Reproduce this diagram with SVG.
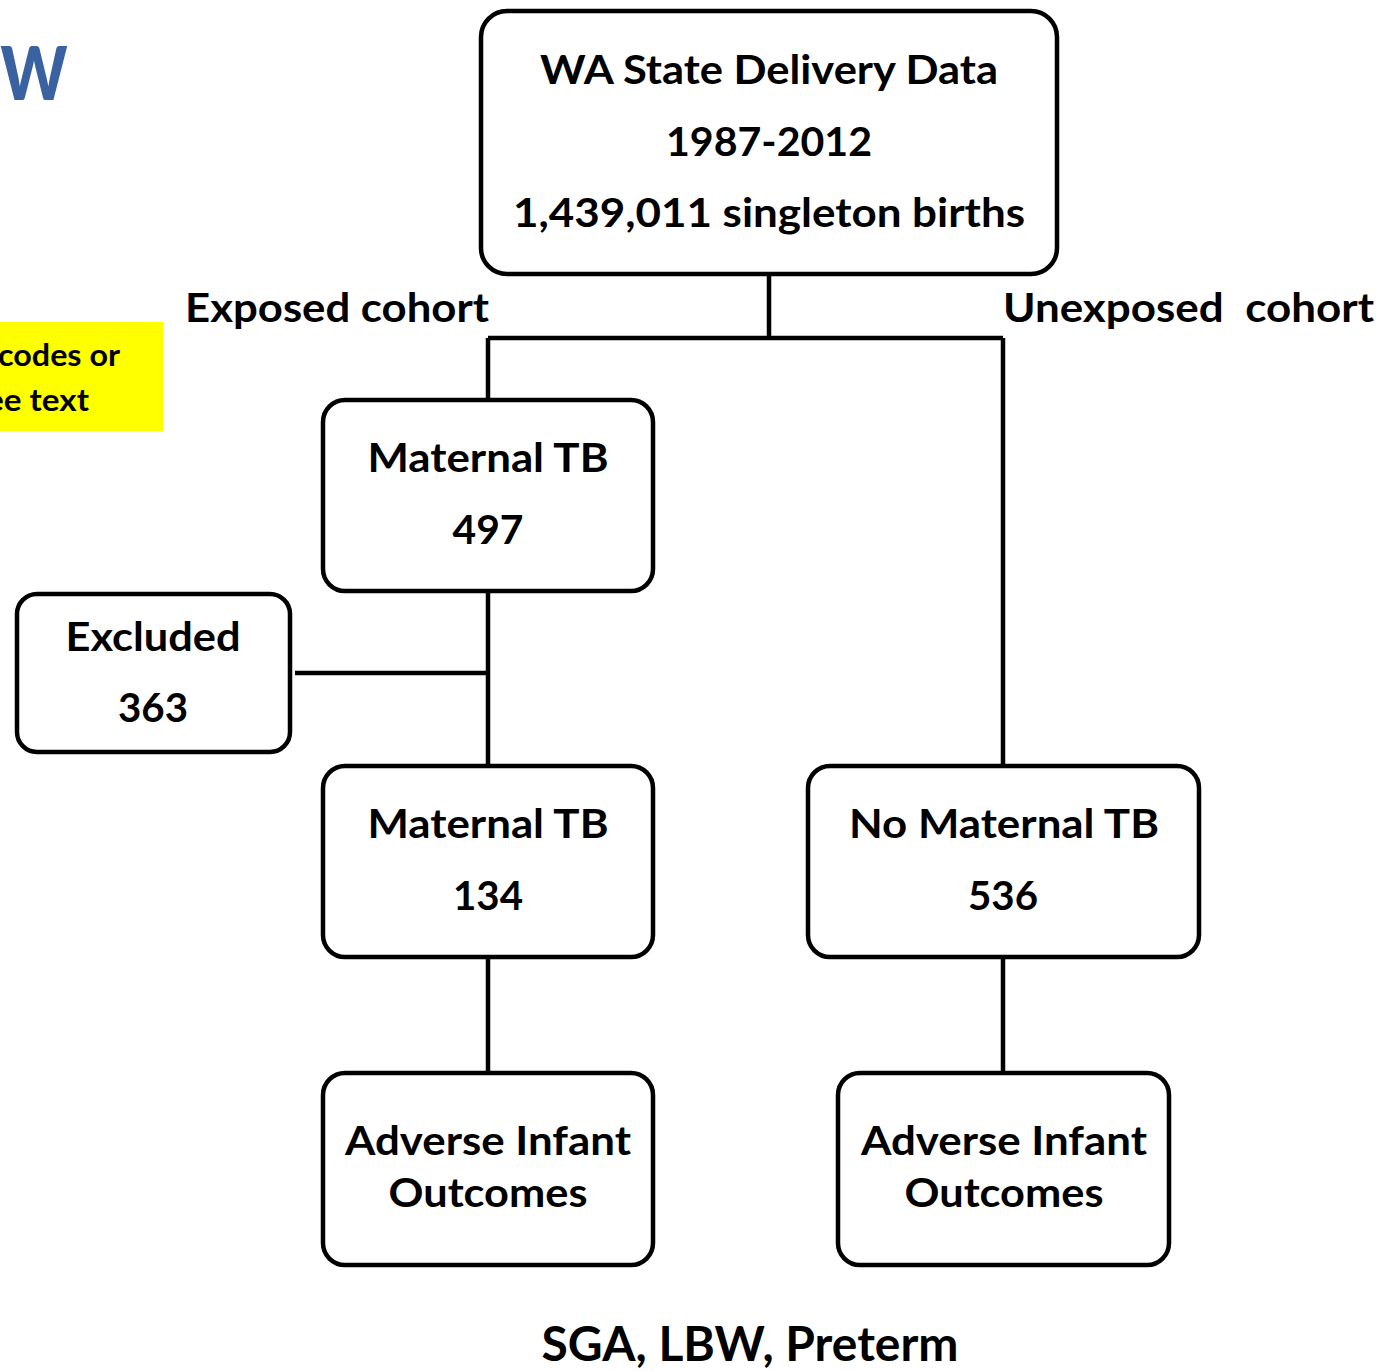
<svg xmlns="http://www.w3.org/2000/svg" width="1384" height="1371" viewBox="0 0 1384 1371">
<style>
  .box { fill: #ffffff; stroke: #000000; stroke-width: 4.5; }
  .conn { fill: none; stroke: #000000; stroke-width: 4.5; }
  text { font-family: Lato, "Open Sans", "Liberation Sans", sans-serif; font-weight: bold; fill: #000000; }
  .t { font-size: 40px; text-anchor: middle; }
  .lbl { font-size: 40px; }
</style>
<rect width="1384" height="1371" fill="#ffffff"/>

<g id="title-fragment">
  <text x="68" y="100" font-size="105" text-anchor="end" style="fill:#3A62A0" textLength="68" lengthAdjust="spacingAndGlyphs">w</text>
</g>

<g id="note-yellow">
  <rect x="0" y="322" width="163" height="109" fill="#FFFF00"/>
  <text x="120" y="366" font-size="31" text-anchor="end" textLength="122" lengthAdjust="spacingAndGlyphs">codes or</text>
  <text x="89" y="411" font-size="31" text-anchor="end" textLength="103" lengthAdjust="spacingAndGlyphs">ee text</text>
</g>

<g id="connectors">
  <path class="conn" d="M769 274 V338 M488 338 H1003 M488 338 V400 M1003 338 V766"/>
  <path class="conn" d="M488 591 V766 M295 673 H488"/>
  <path class="conn" d="M488 957 V1073 M1003 957 V1073"/>
</g>

<g id="label-exposed">
  <text class="lbl" x="185" y="322" textLength="304" lengthAdjust="spacingAndGlyphs">Exposed cohort</text>
</g>
<g id="label-unexposed">
  <text class="lbl" x="1003" y="322" textLength="371" lengthAdjust="spacingAndGlyphs" xml:space="preserve">Unexposed  cohort</text>
</g>

<g id="node-wa">
  <rect class="box" x="481" y="11" width="576" height="263" rx="26"/>
  <text class="t" x="769" y="84" textLength="458" lengthAdjust="spacingAndGlyphs">WA State Delivery Data</text>
  <text class="t" x="769" y="156" textLength="206" lengthAdjust="spacingAndGlyphs">1987-2012</text>
  <text class="t" x="769" y="227" textLength="512" lengthAdjust="spacingAndGlyphs">1,439,011 singleton births</text>
</g>

<g id="node-tb497">
  <rect class="box" x="323" y="400" width="330" height="191" rx="22"/>
  <text class="t" x="488" y="472" textLength="241" lengthAdjust="spacingAndGlyphs">Maternal TB</text>
  <text class="t" x="488" y="544" textLength="71" lengthAdjust="spacingAndGlyphs">497</text>
</g>

<g id="node-excluded">
  <rect class="box" x="17" y="594" width="273" height="158" rx="20"/>
  <text class="t" x="153" y="651" textLength="175" lengthAdjust="spacingAndGlyphs">Excluded</text>
  <text class="t" x="153" y="722" textLength="70" lengthAdjust="spacingAndGlyphs">363</text>
</g>

<g id="node-tb134">
  <rect class="box" x="323" y="766" width="330" height="191" rx="22"/>
  <text class="t" x="488" y="838" textLength="241" lengthAdjust="spacingAndGlyphs">Maternal TB</text>
  <text class="t" x="488" y="910" textLength="70" lengthAdjust="spacingAndGlyphs">134</text>
</g>

<g id="node-notb536">
  <rect class="box" x="808" y="766" width="391" height="191" rx="22"/>
  <text class="t" x="1004" y="838" textLength="310" lengthAdjust="spacingAndGlyphs">No Maternal TB</text>
  <text class="t" x="1003" y="910" textLength="70" lengthAdjust="spacingAndGlyphs">536</text>
</g>

<g id="node-outcomes-left">
  <rect class="box" x="323" y="1073" width="330" height="192" rx="22"/>
  <text class="t" x="488" y="1155" textLength="286" lengthAdjust="spacingAndGlyphs">Adverse Infant</text>
  <text class="t" x="488" y="1207" textLength="199" lengthAdjust="spacingAndGlyphs">Outcomes</text>
</g>

<g id="node-outcomes-right">
  <rect class="box" x="838" y="1073" width="331" height="192" rx="22"/>
  <text class="t" x="1004" y="1155" textLength="286" lengthAdjust="spacingAndGlyphs">Adverse Infant</text>
  <text class="t" x="1004" y="1207" textLength="199" lengthAdjust="spacingAndGlyphs">Outcomes</text>
</g>

<g id="label-outcomes">
  <text x="750" y="1361" font-size="47" text-anchor="middle" textLength="417" lengthAdjust="spacingAndGlyphs">SGA, LBW, Preterm</text>
</g>
</svg>
